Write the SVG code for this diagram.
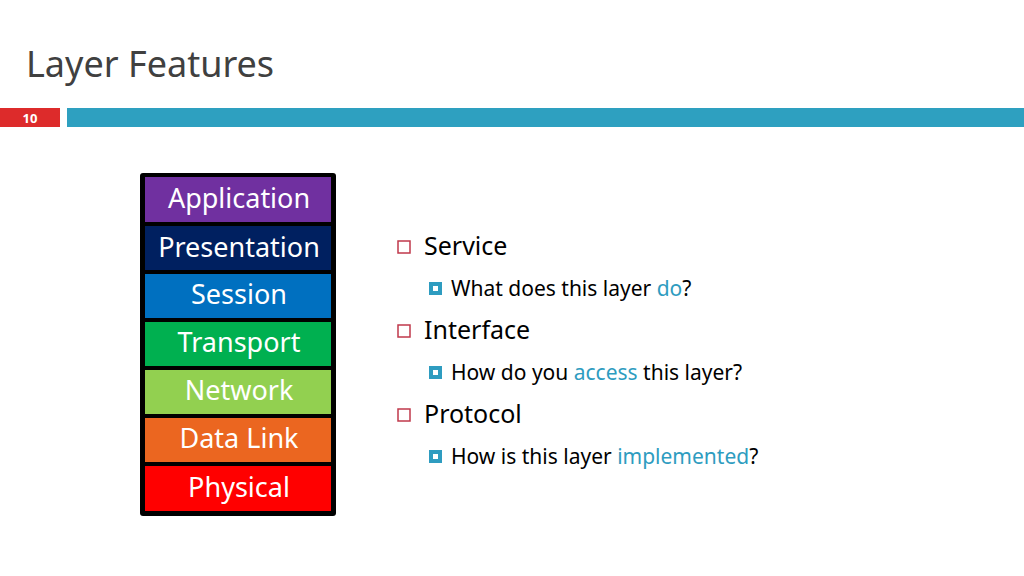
<svg xmlns="http://www.w3.org/2000/svg" width="1024" height="576" viewBox="0 0 1024 576">
<style>
text{font-family:"Noto Sans","Liberation Sans",sans-serif}
.l{fill:#fff;font-size:27px;text-anchor:middle}
.h{font-size:25px;fill:#000}
.s{font-size:21px;fill:#000}
.a{fill:#2e9cc0}
.b1{fill:#fff;stroke:#c0394b;stroke-width:1.5}
.b2{fill:#2e9cc0}
</style>
<rect width="1024" height="576" fill="#fff"/>
<text x="26" y="77" font-size="36" fill="#404040">Layer Features</text>
<rect x="0" y="108" width="60" height="19" fill="#dd2b2b"/>
<text x="30" y="123" font-size="13" fill="#fff" text-anchor="middle" font-weight="bold">10</text>
<rect x="67" y="108" width="957" height="19" fill="#2ea0c0"/>
<rect x="140" y="173" width="196" height="343" rx="3" fill="#000"/>
<g id="application"><rect x="145" y="177" width="186" height="45" fill="#7030a0"/><text class="l" x="239" y="208">Application</text></g>
<g id="presentation"><rect x="145" y="226" width="186" height="44" fill="#002060"/><text class="l" x="239" y="257" font-size="25">Presentation</text></g>
<g id="session"><rect x="145" y="274" width="186" height="44" fill="#0070c0"/><text class="l" x="239" y="304">Session</text></g>
<g id="transport"><rect x="145" y="322" width="186" height="44" fill="#00b050"/><text class="l" x="239" y="352">Transport</text></g>
<g id="network"><rect x="145" y="370" width="186" height="44" fill="#92d050"/><text class="l" x="239" y="400">Network</text></g>
<g id="datalink"><rect x="145" y="418" width="186" height="44" fill="#eb6620"/><text class="l" x="239" y="448">Data Link</text></g>
<g id="physical"><rect x="145" y="466" width="186" height="45" fill="#ff0000"/><text class="l" x="239" y="497">Physical</text></g>
<g id="bullets">
<rect class="b1" x="398" y="241" width="12" height="12"/><text class="h" x="424" y="255">Service</text>
<rect class="b2" x="429" y="282" width="13" height="13"/><rect x="433" y="286" width="5" height="5" fill="#fff"/>
<text class="s" x="451" y="296">What does this layer <tspan class="a">do</tspan>?</text>
<rect class="b1" x="398" y="325" width="12" height="12"/><text class="h" x="424" y="339">Interface</text>
<rect class="b2" x="429" y="366" width="13" height="13"/><rect x="433" y="370" width="5" height="5" fill="#fff"/>
<text class="s" x="451" y="380">How do you <tspan class="a">access</tspan> this layer?</text>
<rect class="b1" x="398" y="409" width="12" height="12"/><text class="h" x="424" y="423">Protocol</text>
<rect class="b2" x="429" y="450" width="13" height="13"/><rect x="433" y="454" width="5" height="5" fill="#fff"/>
<text class="s" x="451" y="464">How is this layer <tspan class="a">implemented</tspan>?</text>
</g>
</svg>
